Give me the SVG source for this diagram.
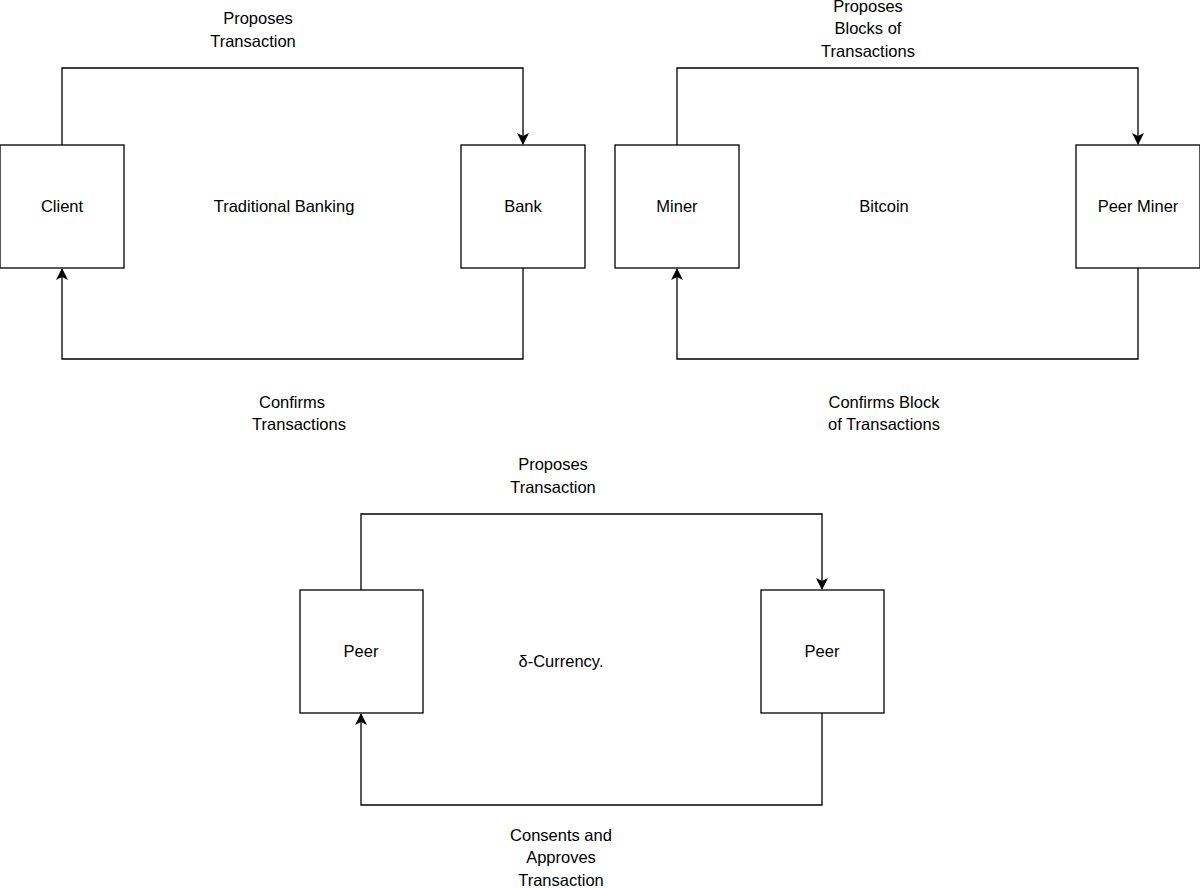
<svg xmlns="http://www.w3.org/2000/svg" width="1200" height="888" viewBox="0 0 1200 888">
<style>
.box{fill:#fff;stroke:#000;stroke-width:1.3}
.ln{fill:none;stroke:#000;stroke-width:1.3}
text{font-family:"Liberation Sans",Arial,sans-serif;font-size:16.5px;fill:#000;text-anchor:middle}
</style>
<defs><marker id="a" markerWidth="12" markerHeight="14" refX="11" refY="7" orient="auto" markerUnits="userSpaceOnUse"><path d="M0,1 L12,7 L0,13 L3,7 Z" fill="#000"/></marker></defs>
<rect width="1200" height="888" fill="#fff"/>
<g id="connectors">
<path class="ln" d="M62,145 V68 H523 V144" marker-end="url(#a)"/>
<path class="ln" d="M523,268 V359 H62 V269" marker-end="url(#a)"/>
<path class="ln" d="M677,145 V68 H1138 V144" marker-end="url(#a)"/>
<path class="ln" d="M1138,268 V359 H677 V269" marker-end="url(#a)"/>
<path class="ln" d="M361,590 V514 H822 V589" marker-end="url(#a)"/>
<path class="ln" d="M822,713 V805 H361 V714" marker-end="url(#a)"/>
</g>
<g id="client"><rect class="box" x="0" y="145" width="124" height="123"/><text x="62" y="212">Client</text></g>
<g id="bank"><rect class="box" x="461" y="145" width="124" height="123"/><text x="523" y="212">Bank</text></g>
<g id="miner"><rect class="box" x="615" y="145" width="124" height="123"/><text x="677" y="212">Miner</text></g>
<g id="peerminer"><rect class="box" x="1076" y="145" width="124" height="123"/><text x="1138" y="212">Peer Miner</text></g>
<g id="peer1"><rect class="box" x="300" y="590" width="123" height="123"/><text x="361" y="657">Peer</text></g>
<g id="peer2"><rect class="box" x="761" y="590" width="123" height="123"/><text x="822" y="657">Peer</text></g>
<g id="labels">
<text x="284" y="212">Traditional Banking</text>
<text x="884" y="212">Bitcoin</text>
<text x="561" y="667">δ-Currency.</text>
<text x="258" y="24">Proposes</text><text x="253" y="47">Transaction</text>
<text x="868" y="12">Proposes</text><text x="868" y="34">Blocks of</text><text x="868" y="57">Transactions</text>
<text x="292" y="408">Confirms</text><text x="299" y="430">Transactions</text>
<text x="884" y="408">Confirms Block</text><text x="884" y="430">of Transactions</text>
<text x="553" y="470">Proposes</text><text x="553" y="493">Transaction</text>
<text x="561" y="841">Consents and</text><text x="561" y="863">Approves</text><text x="561" y="886">Transaction</text>
</g>
</svg>
